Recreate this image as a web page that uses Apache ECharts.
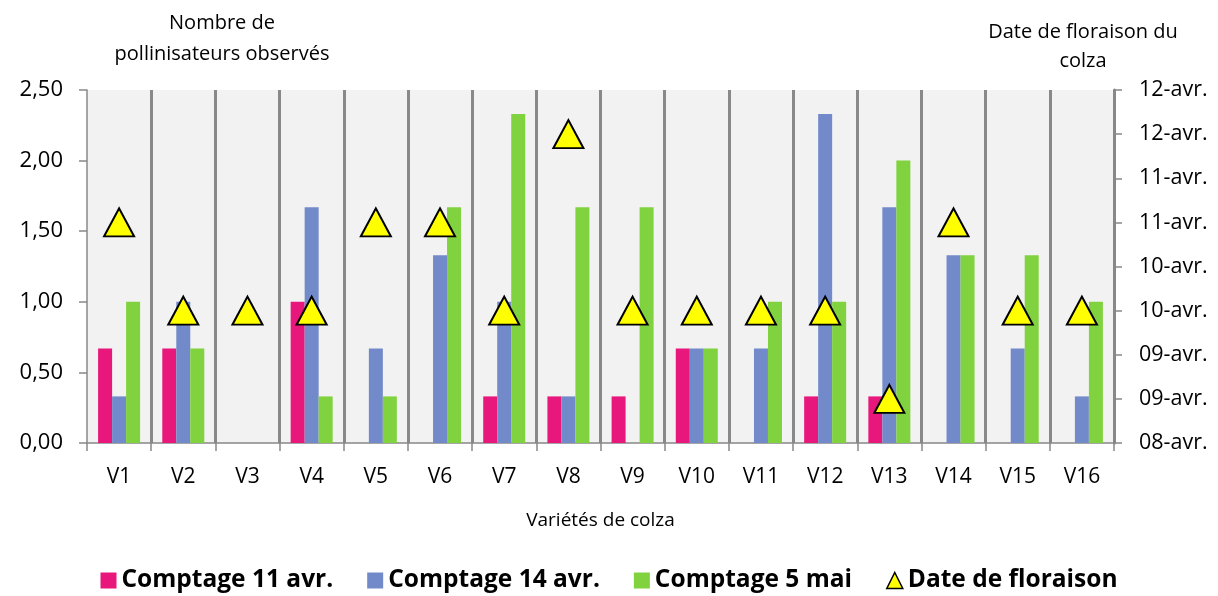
<!DOCTYPE html>
<html>
<head>
<meta charset="utf-8">
<script src="https://cdn.jsdelivr.net/npm/echarts@6/dist/echarts.min.js"></script>
<style>
  html, body { margin: 0; padding: 0; background: #fff; }
  #chart { width: 1218px; height: 596px; }
</style>
</head>
<body>
<div id="chart"></div>
<script>
// données
const varietes = ["V1", "V2", "V3", "V4", "V5", "V6", "V7", "V8", "V9", "V10", "V11", "V12", "V13", "V14", "V15", "V16"];
const comptage11avr = [0.67, 0.67, 0, 1.00, 0, 0, 0.33, 0.33, 0.33, 0.67, 0, 0.33, 0.33, 0, 0, 0];
const comptage14avr = [0.33, 1.00, 0, 1.67, 0.67, 1.33, 1.00, 0.33, 0, 0.67, 0.67, 2.33, 1.67, 1.33, 0.67, 0.33];
const comptage5mai = [1.00, 0.67, 0, 0.33, 0.33, 1.67, 2.33, 1.67, 1.67, 0.67, 1.00, 1.00, 2.00, 1.33, 1.33, 1.00];
// jour d'avril de la floraison
const floraisonJour = [11, 10, 10, 10, 11, 11, 10, 12, 10, 10, 10, 10, 9, 11, 10, 10];
const axeDateDebut = 8.5; // 08-avr. 12h
const etiquettesDates = ["08-avr.", "09-avr.", "09-avr.", "10-avr.", "10-avr.", "11-avr.", "11-avr.", "12-avr.", "12-avr."];

const police = "'Open Sans', Lato, sans-serif";
const gris = "#888888";

let chart = echarts.init(document.getElementById("chart"), null, { renderer: "canvas" });

let option = {
  animation: false,
  textStyle: { fontFamily: police, color: "#000" },
  grid: {
    left: 87,
    right: 104,
    top: 90,
    bottom: 153,
    outerBoundsMode: "none",
    containLabel: false,
    show: true,
    backgroundColor: "#F2F2F2",
    borderWidth: 0
  },
  legend: {
    bottom: -2,
    left: "center",
    itemGap: 34,
    itemWidth: 16,
    itemHeight: 16,
    textStyle: { fontFamily: police, fontSize: 24.5, fontWeight: "bold", color: "#000" },
    data: [
      { name: "Comptage 11 avr.", icon: "rect" },
      { name: "Comptage 14 avr.", icon: "rect" },
      { name: "Comptage 5 mai", icon: "rect" },
      { name: "Date de floraison", icon: "triangle", itemStyle: { color: "#FFFF00", borderColor: "#000", borderWidth: 1.5 } }
    ]
  },
  xAxis: {
    type: "category",
    data: varietes,
    name: "Variétés de colza",
    nameLocation: "middle",
    nameGap: 68,
    nameTextStyle: { fontFamily: police, fontSize: 19, color: "#000" },
    axisLine: { lineStyle: { color: gris, width: 1.5 } },
    axisTick: { show: true, length: 8, lineStyle: { color: gris, width: 1.5 } },
    axisLabel: { fontFamily: police, fontSize: 21, color: "#000", margin: 24 },
    splitLine: { show: true, showMinLine: false, lineStyle: { color: gris, width: 3 } }
  },
  yAxis: [
    {
      type: "value",
      min: 0,
      max: 2.5,
      interval: 0.5,
      name: "Nombre de\npollinisateurs observés",
      nameLocation: "end",
      nameGap: 20,
      nameTextStyle: { fontFamily: police, fontSize: 20, color: "#000", align: "center", padding: [0, 0, 0, 270], lineHeight: 31 },
      axisLine: { show: true, lineStyle: { color: gris, width: 1.5 } },
      axisTick: { show: true, length: 8, lineStyle: { color: gris, width: 1.5 } },
      axisLabel: {
        fontFamily: police,
        fontSize: 22,
        color: "#000",
        margin: 24,
        formatter: v => v.toFixed(2).replace(".", ",")
      },
      splitLine: { show: false }
    },
    {
      type: "value",
      min: 0,
      max: 4,
      interval: 0.5,
      position: "right",
      name: "Date de floraison du\ncolza",
      nameLocation: "end",
      nameGap: 14,
      nameTextStyle: { fontFamily: police, fontSize: 20, color: "#000", align: "center", padding: [0, 62, 0, 0], lineHeight: 29 },
      axisLine: { show: true, lineStyle: { color: gris, width: 3 } },
      axisTick: { show: true, length: 8, lineStyle: { color: gris, width: 1.5 } },
      axisLabel: {
        fontFamily: police,
        fontSize: 21.5,
        color: "#000",
        margin: 25,
        formatter: v => etiquettesDates[Math.round(v / 0.5)]
      },
      splitLine: { show: false }
    }
  ],
  series: [
    {
      name: "Comptage 11 avr.",
      type: "bar",
      data: comptage11avr,
      barWidth: 14,
      barGap: "0%",
      itemStyle: { color: "#E8177C" }
    },
    {
      name: "Comptage 14 avr.",
      type: "bar",
      data: comptage14avr,
      barWidth: 14,
      barGap: "0%",
      itemStyle: { color: "#728AC9" }
    },
    {
      name: "Comptage 5 mai",
      type: "bar",
      data: comptage5mai,
      barWidth: 14,
      barGap: "0%",
      itemStyle: { color: "#80D23E" }
    },
    {
      name: "Date de floraison",
      type: "line",
      yAxisIndex: 1,
      data: floraisonJour.map(j => j - axeDateDebut),
      symbol: "triangle",
      symbolSize: [30, 28],
      showSymbol: true,
      lineStyle: { width: 0, opacity: 0 },
      itemStyle: { color: "#FFFF00", borderColor: "#000", borderWidth: 2 },
      z: 5
    }
  ]
};

chart.setOption(option);
</script>
</body>
</html>
